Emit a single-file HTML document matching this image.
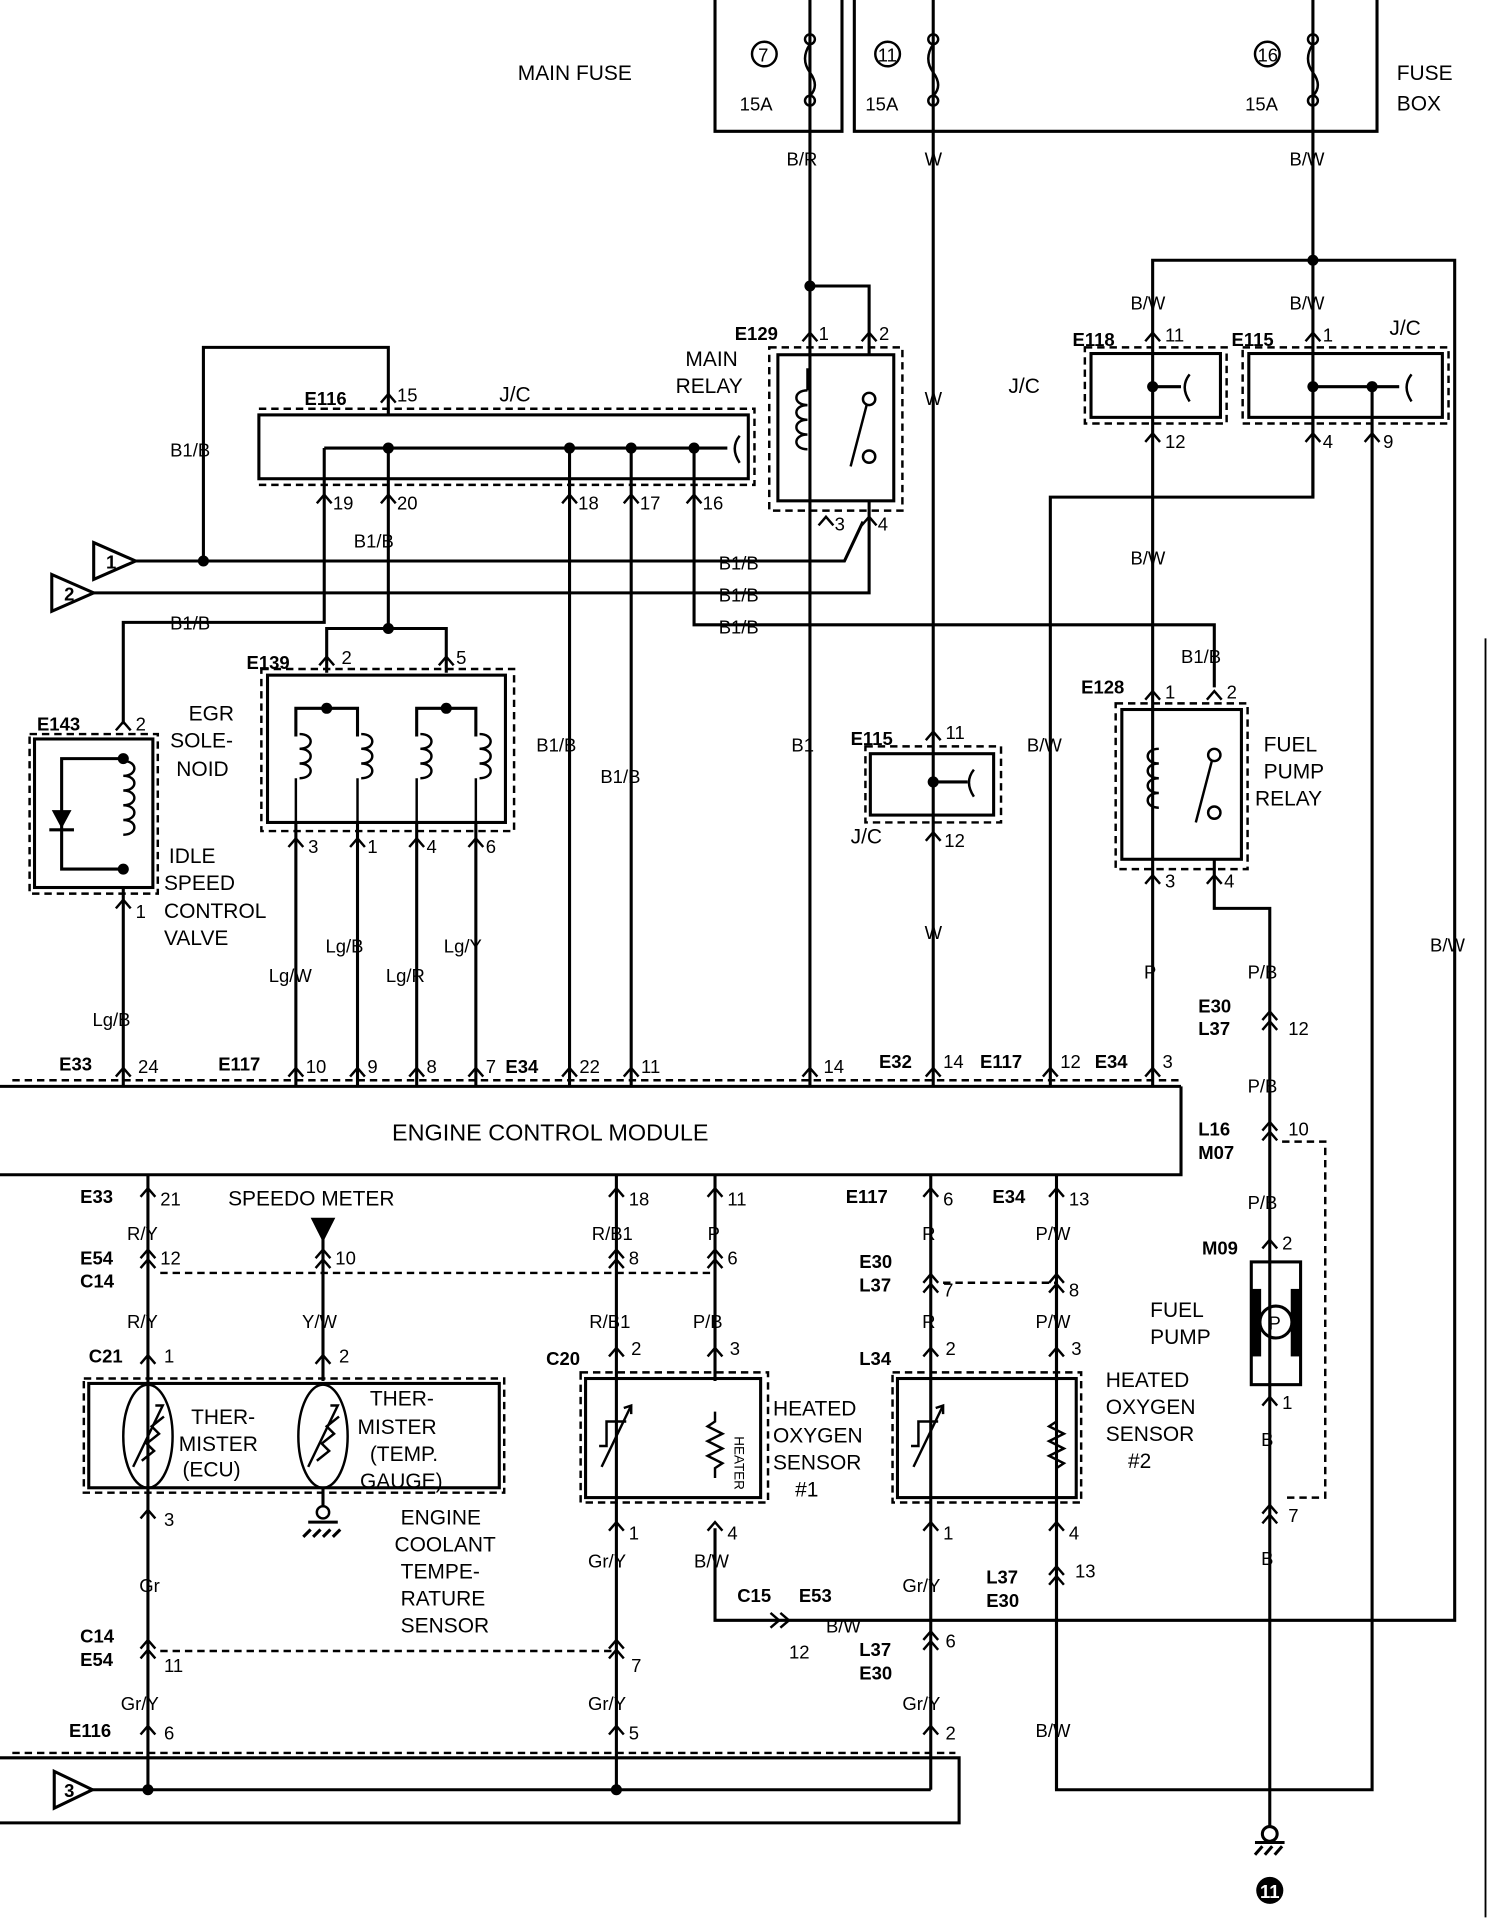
<!DOCTYPE html>
<html><head><meta charset="utf-8"><style>
html,body{margin:0;padding:0;background:#fff;}
svg{display:block;}
text{font-family:"Liberation Sans",sans-serif;font-size:17px;fill:#000;}
.s{font-size:15px;}
.b{font-weight:bold;}
</style></head><body>
<svg width="1504" height="1926" viewBox="0 0 1220 1569" preserveAspectRatio="none" xmlns="http://www.w3.org/2000/svg">
<defs>
<g id="c"><polyline points="-6,5 0,-2 6,5" fill="none" stroke="#000" stroke-width="2"/></g>
<g id="d"><polyline points="-6,3 0,-4 6,3" fill="none" stroke="#000" stroke-width="2"/><polyline points="-6,11 0,4 6,11" fill="none" stroke="#000" stroke-width="2"/></g>
<g id="j"><circle r="4.5" fill="#000"/></g>
</defs>
<g fill="none" stroke="#000" stroke-width="2.5">
<polyline points="580,0 580,107 683,107 683,0"/>
<polyline points="693,0 693,107 1117,107 1117,0"/>
<line x1="657" y1="0" x2="657" y2="885"/>
<line x1="757" y1="0" x2="757" y2="885"/>
<line x1="1065" y1="0" x2="1065" y2="212"/>
<polyline points="657,233 705,233 705,290"/>
<polyline points="935,885 935,212 1180,212 1180,1320 580,1320 580,1245"/>
<line x1="1065" y1="212" x2="1065" y2="405"/>
<polyline points="1065,340 1065,405 852,405 852,885"/>
<polyline points="1113,315 1113,1458 857,1458 857,1045"/>
<rect x="631" y="289" width="94" height="119"/>
<rect x="210" y="338" width="397" height="52"/>
<line x1="263" y1="365" x2="590" y2="365"/>
<polyline points="315,338 315,283 165,283 165,457"/>
<line x1="315" y1="365" x2="315" y2="512"/>
<polyline points="263,365 263,507 100,507 100,590"/>
<line x1="462" y1="365" x2="462" y2="885"/>
<line x1="512" y1="365" x2="512" y2="885"/>
<polyline points="563,365 563,509 985,509 985,560"/>
<polyline points="110,457 685,457 700,425"/>
<polyline points="75,483 705,483 705,408"/>
<polyline points="265,548 265,512 362,512 362,548"/>
<rect x="217" y="550" width="193" height="120"/>
<line x1="240" y1="670" x2="240" y2="885"/><line x1="290" y1="670" x2="290" y2="885"/>
<line x1="338" y1="670" x2="338" y2="885"/><line x1="386" y1="670" x2="386" y2="885"/>
<polyline points="265,577 240,577 240,600"/><polyline points="265,577 290,577 290,600"/>
<polyline points="362,577 338,577 338,600"/><polyline points="362,577 386,577 386,600"/>
<rect x="28" y="602" width="96" height="121"/>
<line x1="100" y1="723" x2="100" y2="885"/>
<polyline points="100,618 50,618 50,708 100,708"/>
<rect x="885" y="288" width="105" height="52"/>
<line x1="935" y1="315" x2="958" y2="315"/>
<rect x="1013" y="288" width="157" height="52"/>
<line x1="1065" y1="315" x2="1135" y2="315"/>
<rect x="706" y="614" width="100" height="50"/>
<line x1="757" y1="637" x2="785" y2="637"/>
<rect x="910" y="578" width="97" height="122"/>
<polyline points="985,700 985,740 1030,740 1030,1488"/>
<line x1="0" y1="885" x2="958" y2="885"/>
<polyline points="958,885 958,957 0,957"/>
<line x1="120" y1="957" x2="120" y2="1458"/>
<line x1="262" y1="1000" x2="262" y2="1125"/>
<line x1="500" y1="957" x2="500" y2="1458"/>
<line x1="580" y1="957" x2="580" y2="1125"/>
<line x1="755" y1="957" x2="755" y2="1458"/>
<line x1="857" y1="957" x2="857" y2="1125"/>
<line x1="857" y1="1220" x2="857" y2="1458"/>
<line x1="75" y1="1458" x2="755" y2="1458"/>
<rect x="72" y="1127" width="333" height="85"/>
<rect x="475" y="1123" width="142" height="97"/>
<rect x="728" y="1123" width="145" height="97"/>
<rect x="1015" y="1028" width="40" height="100"/>
<polyline points="0,1432 778,1432 778,1485 0,1485"/>
<line x1="262" y1="1212" x2="262" y2="1228"/>
</g>
<g fill="none" stroke="#000" stroke-width="2" stroke-dasharray="6,4">
<rect x="624" y="283" width="108" height="133"/>
<polyline points="210,333 612,333 612,395 210,395"/>
<rect x="212" y="545" width="205" height="132"/>
<rect x="24" y="598" width="104" height="130"/>
<rect x="880" y="283" width="115" height="62"/>
<rect x="1008" y="283" width="167" height="62"/>
<rect x="702" y="608" width="110" height="62"/>
<rect x="905" y="573" width="107" height="135"/>
<line x1="10" y1="880" x2="958" y2="880"/>
<line x1="130" y1="1037" x2="580" y2="1037"/>
<line x1="765" y1="1045" x2="857" y2="1045"/>
<rect x="68" y="1123" width="341" height="93"/>
<rect x="471" y="1118" width="152" height="106"/>
<rect x="724" y="1118" width="153" height="106"/>
<polyline points="1040,930 1075,930 1075,1220 1040,1220"/>
<line x1="130" y1="1345" x2="500" y2="1345"/>
<line x1="10" y1="1428" x2="775" y2="1428"/>
</g>
<line x1="1205" y1="520" x2="1205" y2="1562" stroke="#000" stroke-width="1.5"/>
<g fill="none" stroke="#000" stroke-width="2">
<circle cx="657" cy="32" r="4"/><circle cx="657" cy="82" r="4"/><path d="M657,36 q-8,12 0,23 q8,11 0,19"/>
<circle cx="757" cy="32" r="4"/><circle cx="757" cy="82" r="4"/><path d="M757,36 q-8,12 0,23 q8,11 0,19"/>
<circle cx="1065" cy="32" r="4"/><circle cx="1065" cy="82" r="4"/><path d="M1065,36 q-8,12 0,23 q8,11 0,19"/>
<circle cx="620" cy="44" r="10"/><circle cx="720" cy="44" r="10"/><circle cx="1028" cy="44" r="10"/>
<path d="M655,318 c-12,0 -12,12 0,12 c-12,0 -12,12 0,12 c-12,0 -12,12 0,12 c-12,0 -12,12 0,12"/>
<path d="M940,610 c-12,0 -12,12 0,12 c-12,0 -12,12 0,12 c-12,0 -12,12 0,12 c-12,0 -12,12 0,12"/>
<path d="M100,620 c12,0 12,12 0,12 c12,0 12,12 0,12 c12,0 12,12 0,12 c12,0 12,12 0,12 c12,0 12,12 0,12"/>
<path d="M243,598 c12,0 12,12 0,12 c12,0 12,12 0,12 c12,0 12,12 0,12 M240,634 l0,36"/>
<path d="M293,598 c12,0 12,12 0,12 c12,0 12,12 0,12 c12,0 12,12 0,12 M290,634 l0,36"/>
<path d="M341,598 c12,0 12,12 0,12 c12,0 12,12 0,12 c12,0 12,12 0,12 M338,634 l0,36"/>
<path d="M389,598 c12,0 12,12 0,12 c12,0 12,12 0,12 c12,0 12,12 0,12 M386,634 l0,36"/>
<polyline points="655,318 655,300 M655,366 655,395"/>
<circle cx="705" cy="325" r="5"/><circle cx="705" cy="372" r="5"/><line x1="703" y1="330" x2="690" y2="380"/>
<circle cx="985" cy="615" r="5"/><circle cx="985" cy="662" r="5"/><line x1="983" y1="620" x2="970" y2="670"/>
<path d="M965,305 q-8,10 0,22"/><path d="M1145,305 q-8,10 0,22"/><path d="M600,355 q-8,10 0,22"/><path d="M790,627 q-8,10 0,22"/>
<ellipse cx="120" cy="1170" rx="20" ry="42"/><ellipse cx="262" cy="1170" rx="20" ry="42"/>
<polyline points="108,1195 132,1145 126,1145"/><path d="M115,1190 l10,-8 -6,-6 10,-8 -6,-6 10,-8"/>
<polyline points="250,1195 274,1145 268,1145"/><path d="M257,1190 l10,-8 -6,-6 10,-8 -6,-6 10,-8"/>
<circle cx="262" cy="1232" r="5"/>
<line x1="488" y1="1195" x2="512" y2="1145"/><polyline points="506,1147 512,1145 512,1152"/><path d="M486,1178 l6,0 0,-20 16,0"/>
<line x1="741" y1="1195" x2="765" y2="1145"/><polyline points="759,1147 765,1145 765,1152"/><path d="M739,1178 l6,0 0,-20 16,0"/>
<path d="M580,1150 l0,8 l-6,4 12,6 -12,6 12,6 -12,6 12,6 -6,4 l0,8"/>
<path d="M857,1150 l0,8 l-6,4 12,6 -12,6 12,6 -12,6 12,6 -6,4 l0,8"/>
<circle cx="1035" cy="1077" r="13" stroke-width="2.5"/>
<circle cx="1030" cy="1494" r="6" stroke-width="2.5"/>
</g>
<polygon points="42,660 58,660 50,675" fill="#000"/><line x1="40" y1="676" x2="60" y2="676" stroke="#000" stroke-width="2.5"/>
<rect x="1015" y="1050" width="8" height="55" fill="#000"/><rect x="1047" y="1050" width="8" height="55" fill="#000"/>
<g stroke="#000" stroke-width="2.5"><line x1="250" y1="1240" x2="274" y2="1240"/><line x1="1018" y1="1501" x2="1042" y2="1501"/>
<line x1="252" y1="1246" x2="246" y2="1252"/><line x1="260" y1="1246" x2="254" y2="1252"/><line x1="268" y1="1246" x2="262" y2="1252"/><line x1="276" y1="1246" x2="270" y2="1252"/>
<line x1="1024" y1="1504" x2="1018" y2="1511"/><line x1="1032" y1="1504" x2="1026" y2="1511"/><line x1="1040" y1="1504" x2="1034" y2="1511"/></g>
<circle cx="1030" cy="1540" r="11" fill="#000"/><text x="1030" y="1546" text-anchor="middle" style="fill:#fff" class="s b">11</text>
<g fill="#fff" stroke="#000" stroke-width="2.5">
<polygon points="76,442 110,457 76,472"/><polygon points="42,468 76,483 42,498"/><polygon points="44,1443 75,1458 44,1473"/>
</g>
<polygon points="252,992 272,992 262,1012" fill="#000"/>
<text x="86" y="463" class="s b">1</text><text x="52" y="489" class="s b">2</text><text x="52" y="1464" class="s b">3</text>
<g>
<use href="#j" x="657" y="233"/><use href="#j" x="1065" y="212"/><use href="#j" x="315" y="365"/><use href="#j" x="462" y="365"/><use href="#j" x="512" y="365"/><use href="#j" x="563" y="365"/>
<use href="#j" x="165" y="457"/><use href="#j" x="315" y="512"/><use href="#j" x="265" y="577"/><use href="#j" x="362" y="577"/>
<use href="#j" x="100" y="618"/><use href="#j" x="100" y="708"/><use href="#j" x="935" y="315"/><use href="#j" x="1065" y="315"/><use href="#j" x="1113" y="315"/><use href="#j" x="757" y="637"/>
<use href="#j" x="120" y="1458"/><use href="#j" x="500" y="1458"/>
</g>
<g>
<use href="#c" x="657" y="273"/><use href="#c" x="705" y="273"/><use href="#c" x="670" y="423"/><use href="#c" x="705" y="423"/>
<use href="#c" x="315" y="323"/><use href="#c" x="263" y="405"/><use href="#c" x="315" y="405"/><use href="#c" x="462" y="405"/><use href="#c" x="512" y="405"/><use href="#c" x="563" y="405"/>
<use href="#c" x="265" y="537"/><use href="#c" x="362" y="537"/><use href="#c" x="240" y="685"/><use href="#c" x="290" y="685"/><use href="#c" x="338" y="685"/><use href="#c" x="386" y="685"/>
<use href="#c" x="100" y="590"/><use href="#c" x="100" y="735"/>
<use href="#c" x="935" y="273"/><use href="#c" x="1065" y="273"/><use href="#c" x="935" y="355"/><use href="#c" x="1065" y="355"/><use href="#c" x="1113" y="355"/>
<use href="#c" x="935" y="565"/><use href="#c" x="985" y="565"/><use href="#c" x="935" y="715"/><use href="#c" x="985" y="715"/>
<use href="#c" x="757" y="598"/><use href="#c" x="757" y="680"/>
<use href="#c" x="100" y="872"/><use href="#c" x="240" y="872"/><use href="#c" x="290" y="872"/><use href="#c" x="338" y="872"/><use href="#c" x="386" y="872"/><use href="#c" x="462" y="872"/><use href="#c" x="512" y="872"/><use href="#c" x="657" y="872"/><use href="#c" x="757" y="872"/><use href="#c" x="852" y="872"/><use href="#c" x="935" y="872"/>
<use href="#c" x="120" y="970"/><use href="#c" x="500" y="970"/><use href="#c" x="580" y="970"/><use href="#c" x="755" y="970"/><use href="#c" x="857" y="970"/>
<use href="#c" x="120" y="1106"/><use href="#c" x="262" y="1106"/><use href="#c" x="500" y="1100"/><use href="#c" x="580" y="1100"/><use href="#c" x="755" y="1100"/><use href="#c" x="857" y="1100"/>
<use href="#c" x="120" y="1232"/><use href="#c" x="500" y="1242"/><use href="#c" x="580" y="1242"/><use href="#c" x="755" y="1242"/><use href="#c" x="857" y="1242"/>
<use href="#c" x="1030" y="1012"/><use href="#c" x="1030" y="1140"/>
<use href="#c" x="120" y="1408"/><use href="#c" x="500" y="1408"/><use href="#c" x="755" y="1408"/>
<use href="#d" x="120" y="1022"/><use href="#d" x="262" y="1022"/><use href="#d" x="500" y="1022"/><use href="#d" x="580" y="1022"/><use href="#d" x="755" y="1042"/><use href="#d" x="857" y="1042"/>
<use href="#d" x="120" y="1340"/><use href="#d" x="500" y="1340"/><use href="#d" x="755" y="1333"/><use href="#d" x="857" y="1280"/>
<use href="#d" x="1030" y="828"/><use href="#d" x="1030" y="918"/><use href="#d" x="1030" y="1230"/>
<g transform="translate(636,1320) rotate(90)"><use href="#d"/></g>
</g>
<g>
<text x="420" y="65">MAIN FUSE</text><text x="1133" y="65">FUSE</text><text x="1133" y="90">BOX</text>
<text x="615" y="50" class="s">7</text><text x="712" y="50" class="s">11</text><text x="1020" y="50" class="s">16</text>
<text x="600" y="90" class="s">15A</text><text x="702" y="90" class="s">15A</text><text x="1010" y="90" class="s">15A</text>
<text x="638" y="135" class="s">B/R</text><text x="750" y="135" class="s">W</text><text x="1046" y="135" class="s">B/W</text>
<text x="596" y="277" class="s b">E129</text><text x="664" y="277" class="s">1</text><text x="713" y="277" class="s">2</text>
<text x="556" y="298">MAIN</text><text x="548" y="320">RELAY</text>
<text x="677" y="432" class="s">3</text><text x="712" y="432" class="s">4</text>
<text x="750" y="330" class="s">W</text><text x="750" y="765" class="s">W</text>
<text x="247" y="330" class="s b">E116</text><text x="322" y="327" class="s">15</text><text x="405" y="327">J/C</text>
<text x="138" y="372" class="s">B1/B</text>
<text x="270" y="415" class="s">19</text><text x="322" y="415" class="s">20</text><text x="469" y="415" class="s">18</text><text x="519" y="415" class="s">17</text><text x="570" y="415" class="s">16</text>
<text x="287" y="446" class="s">B1/B</text><text x="583" y="464" class="s">B1/B</text><text x="583" y="490" class="s">B1/B</text><text x="583" y="516" class="s">B1/B</text>
<text x="138" y="513" class="s">B1/B</text>
<text x="200" y="545" class="s b">E139</text><text x="277" y="541" class="s">2</text><text x="370" y="541" class="s">5</text>
<text x="153" y="587">EGR</text><text x="138" y="609">SOLE-</text><text x="143" y="632">NOID</text>
<text x="30" y="595" class="s b">E143</text><text x="110" y="595" class="s">2</text>
<text x="137" y="703">IDLE</text><text x="133" y="725">SPEED</text><text x="133" y="748">CONTROL</text><text x="133" y="770">VALVE</text>
<text x="110" y="748" class="s">1</text>
<text x="250" y="695" class="s">3</text><text x="298" y="695" class="s">1</text><text x="346" y="695" class="s">4</text><text x="394" y="695" class="s">6</text>
<text x="435" y="612" class="s">B1/B</text><text x="487" y="638" class="s">B1/B</text><text x="642" y="612" class="s">B1</text>
<text x="264" y="776" class="s">Lg/B</text><text x="360" y="776" class="s">Lg/Y</text><text x="218" y="800" class="s">Lg/W</text><text x="313" y="800" class="s">Lg/R</text><text x="75" y="836" class="s">Lg/B</text>
<text x="818" y="320">J/C</text><text x="1127" y="273">J/C</text>
<text x="870" y="282" class="s b">E118</text><text x="945" y="278" class="s">11</text><text x="999" y="282" class="s b">E115</text><text x="1073" y="278" class="s">1</text>
<text x="917" y="252" class="s">B/W</text><text x="1046" y="252" class="s">B/W</text>
<text x="945" y="365" class="s">12</text><text x="1073" y="365" class="s">4</text><text x="1122" y="365" class="s">9</text>
<text x="917" y="460" class="s">B/W</text><text x="958" y="540" class="s">B1/B</text><text x="833" y="612" class="s">B/W</text>
<text x="877" y="565" class="s b">E128</text><text x="945" y="569" class="s">1</text><text x="995" y="569" class="s">2</text>
<text x="1025" y="612">FUEL</text><text x="1025" y="634">PUMP</text><text x="1018" y="656">RELAY</text>
<text x="945" y="723" class="s">3</text><text x="993" y="723" class="s">4</text>
<text x="690" y="607" class="s b">E115</text><text x="767" y="602" class="s">11</text><text x="690" y="687">J/C</text><text x="766" y="690" class="s">12</text>
<text x="928" y="797" class="s">P</text><text x="1012" y="797" class="s">P/B</text><text x="1160" y="775" class="s">B/W</text>
<text x="972" y="825" class="s b">E30</text><text x="972" y="843" class="s b">L37</text><text x="1045" y="843" class="s">12</text>
<text x="1012" y="890" class="s">P/B</text><text x="972" y="925" class="s b">L16</text><text x="972" y="944" class="s b">M07</text><text x="1045" y="925" class="s">10</text>
<text x="1012" y="985" class="s">P/B</text><text x="975" y="1022" class="s b">M09</text><text x="1040" y="1018" class="s">2</text>
<text x="933" y="1073">FUEL</text><text x="933" y="1095">PUMP</text><text x="1029" y="1083" class="s">P</text>
<text x="1040" y="1148" class="s">1</text><text x="1023" y="1178" class="s">B</text><text x="1045" y="1240" class="s">7</text><text x="1023" y="1275" class="s">B</text>
<text x="48" y="872" class="s b">E33</text><text x="112" y="874" class="s">24</text><text x="177" y="872" class="s b">E117</text><text x="248" y="874" class="s">10</text><text x="298" y="874" class="s">9</text><text x="346" y="874" class="s">8</text><text x="394" y="874" class="s">7</text><text x="410" y="874" class="s b">E34</text><text x="470" y="874" class="s">22</text><text x="520" y="874" class="s">11</text><text x="668" y="874" class="s">14</text>
<text x="713" y="870" class="s b">E32</text><text x="765" y="870" class="s">14</text><text x="795" y="870" class="s b">E117</text><text x="860" y="870" class="s">12</text><text x="888" y="870" class="s b">E34</text><text x="943" y="870" class="s">3</text>
<text x="318" y="929" style="font-size:19px">ENGINE CONTROL MODULE</text>
<text x="65" y="980" class="s b">E33</text><text x="130" y="982" class="s">21</text><text x="185" y="982">SPEEDO METER</text><text x="510" y="982" class="s">18</text><text x="590" y="982" class="s">11</text>
<text x="686" y="980" class="s b">E117</text><text x="765" y="982" class="s">6</text><text x="805" y="980" class="s b">E34</text><text x="867" y="982" class="s">13</text>
<text x="103" y="1010" class="s">R/Y</text><text x="480" y="1010" class="s">R/B1</text><text x="574" y="1010" class="s">P</text><text x="748" y="1010" class="s">R</text><text x="840" y="1010" class="s">P/W</text>
<text x="65" y="1030" class="s b">E54</text><text x="65" y="1049" class="s b">C14</text><text x="130" y="1030" class="s">12</text><text x="272" y="1030" class="s">10</text><text x="510" y="1030" class="s">8</text><text x="590" y="1030" class="s">6</text>
<text x="697" y="1033" class="s b">E30</text><text x="697" y="1052" class="s b">L37</text><text x="765" y="1056" class="s">7</text><text x="867" y="1056" class="s">8</text>
<text x="103" y="1082" class="s">R/Y</text><text x="245" y="1082" class="s">Y/W</text><text x="478" y="1082" class="s">R/B1</text><text x="562" y="1082" class="s">P/B</text><text x="748" y="1082" class="s">R</text><text x="840" y="1082" class="s">P/W</text>
<text x="72" y="1110" class="s b">C21</text><text x="133" y="1110" class="s">1</text><text x="275" y="1110" class="s">2</text>
<text x="443" y="1112" class="s b">C20</text><text x="512" y="1104" class="s">2</text><text x="592" y="1104" class="s">3</text>
<text x="697" y="1112" class="s b">L34</text><text x="767" y="1104" class="s">2</text><text x="869" y="1104" class="s">3</text>
<text x="155" y="1160">THER-</text><text x="145" y="1182">MISTER</text><text x="148" y="1203">(ECU)</text>
<text x="300" y="1145">THER-</text><text x="290" y="1168">MISTER</text><text x="300" y="1190">(TEMP.</text><text x="292" y="1212">GAUGE)</text>
<text x="627" y="1153">HEATED</text><text x="627" y="1175">OXYGEN</text><text x="627" y="1197">SENSOR</text><text x="645" y="1219">#1</text>
<text x="897" y="1130">HEATED</text><text x="897" y="1152">OXYGEN</text><text x="897" y="1174">SENSOR</text><text x="915" y="1196">#2</text>
<text x="0" y="0" transform="translate(596,1170) rotate(90)" style="font-size:11px">HEATER</text>
<text x="133" y="1243" class="s">3</text><text x="510" y="1254" class="s">1</text><text x="590" y="1254" class="s">4</text><text x="765" y="1254" class="s">1</text><text x="867" y="1254" class="s">4</text>
<text x="325" y="1242">ENGINE</text><text x="320" y="1264">COOLANT</text><text x="325" y="1286">TEMPE-</text><text x="325" y="1308">RATURE</text><text x="325" y="1330">SENSOR</text>
<text x="113" y="1297" class="s">Gr</text><text x="477" y="1277" class="s">Gr/Y</text><text x="563" y="1277" class="s">B/W</text><text x="732" y="1297" class="s">Gr/Y</text>
<text x="800" y="1290" class="s b">L37</text><text x="800" y="1309" class="s b">E30</text><text x="872" y="1285" class="s">13</text>
<text x="598" y="1305" class="s b">C15</text><text x="648" y="1305" class="s b">E53</text><text x="670" y="1330" class="s">B/W</text><text x="640" y="1351" class="s">12</text>
<text x="697" y="1349" class="s b">L37</text><text x="697" y="1368" class="s b">E30</text><text x="767" y="1342" class="s">6</text>
<text x="65" y="1338" class="s b">C14</text><text x="65" y="1357" class="s b">E54</text><text x="133" y="1362" class="s">11</text><text x="512" y="1362" class="s">7</text>
<text x="98" y="1393" class="s">Gr/Y</text><text x="477" y="1393" class="s">Gr/Y</text><text x="732" y="1393" class="s">Gr/Y</text><text x="840" y="1415" class="s">B/W</text>
<text x="56" y="1415" class="s b">E116</text><text x="133" y="1417" class="s">6</text><text x="510" y="1417" class="s">5</text><text x="767" y="1417" class="s">2</text>
</g>
</svg>
</body></html>
